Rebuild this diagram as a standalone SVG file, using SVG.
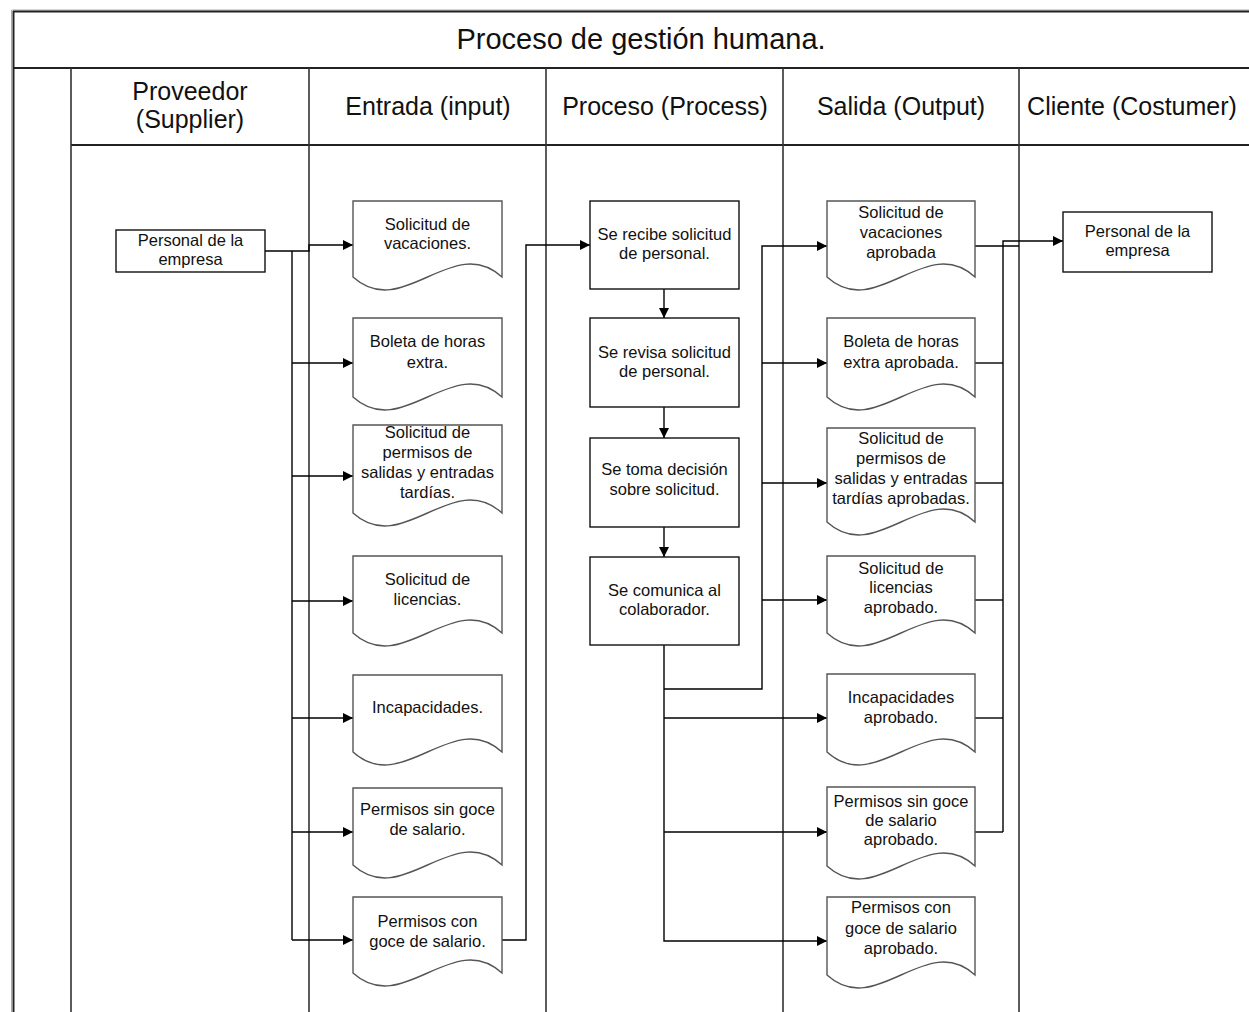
<svg xmlns="http://www.w3.org/2000/svg" width="1249" height="1012" viewBox="0 0 1249 1012">
  <defs>
    <marker id="arrow" markerUnits="userSpaceOnUse" markerWidth="10" markerHeight="10" refX="10" refY="5" orient="auto">
      <path d="M0,0 L10,5 L0,10 Z" fill="#000"/>
    </marker>
    <style>
      .frame { stroke: #222; stroke-width: 2; fill: none; }
      .col { stroke: #333; stroke-width: 1.6; fill: none; }
      .box { fill: #fff; stroke: #111; stroke-width: 1.4; }
      .doc { fill: #fff; stroke: #555; stroke-width: 1.4; }
      .wire { fill: none; stroke: #000; stroke-width: 1.4; }
      .arr { marker-end: url(#arrow); }
      .t { font-family: "Liberation Sans", Arial, sans-serif; font-size: 16.5px; text-anchor: middle; fill: #111; }
      .h { font-family: "Liberation Sans", Arial, sans-serif; font-size: 25px; text-anchor: middle; fill: #111; }
      .title { font-family: "Liberation Sans", Arial, sans-serif; font-size: 29px; text-anchor: middle; fill: #111; }
    </style>
  </defs>

  <rect width="1249" height="1012" fill="#fff"/>

  <!-- table frame -->
  <g id="frame">
    <line x1="12" y1="10" x2="1249" y2="10" stroke="#aaa" stroke-width="1"/>
    <line x1="11.5" y1="10" x2="11.5" y2="1012" stroke="#aaa" stroke-width="1"/>
    <line x1="13" y1="11.5" x2="1249" y2="11.5" class="frame"/>
    <line x1="13.5" y1="11" x2="13.5" y2="1012" class="frame"/>
    <line x1="13" y1="68" x2="1249" y2="68" class="frame" stroke-width="2.6"/>
    <line x1="71" y1="145" x2="1249" y2="145" class="frame"/>
    <line x1="71" y1="68" x2="71" y2="1012" class="col"/>
    <line x1="309" y1="68" x2="309" y2="1012" class="col"/>
    <line x1="546" y1="68" x2="546" y2="1012" class="col"/>
    <line x1="783" y1="68" x2="783" y2="1012" class="col"/>
    <line x1="1019" y1="68" x2="1019" y2="1012" class="col"/>
    <text class="title" x="641" y="49">Proceso de gestión humana.</text>
    <text class="h" x="190" y="100">Proveedor</text>
    <text class="h" x="190" y="128">(Supplier)</text>
    <text class="h" x="428" y="115">Entrada (input)</text>
    <text class="h" x="665" y="115">Proceso (Process)</text>
    <text class="h" x="901" y="115">Salida (Output)</text>
    <text class="h" x="1132" y="115">Cliente (Costumer)</text>
  </g>

  <!-- connectors -->
  <g id="connectors">
    <path class="wire arr" d="M265,251 H309 V245 H353"/>
    <path class="wire" d="M292,251 V940"/>
    <path class="wire arr" d="M292,363 H353"/>
    <path class="wire arr" d="M292,476 H353"/>
    <path class="wire arr" d="M292,601 H353"/>
    <path class="wire arr" d="M292,718 H353"/>
    <path class="wire arr" d="M292,832 H353"/>
    <path class="wire arr" d="M292,940 H353"/>
    <path class="wire arr" d="M502,940 H526 V245 H590"/>
    <path class="wire arr" d="M664,289 V318"/>
    <path class="wire arr" d="M664,407 V438"/>
    <path class="wire arr" d="M664,527 V557"/>
    <path class="wire arr" d="M664,645 V941 H827"/>
    <path class="wire arr" d="M664,689 H762 V246 H827"/>
    <path class="wire arr" d="M762,363 H827"/>
    <path class="wire arr" d="M762,483 H827"/>
    <path class="wire arr" d="M762,600 H827"/>
    <path class="wire arr" d="M664,718 H827"/>
    <path class="wire arr" d="M664,832 H827"/>
    <path class="wire" d="M975,246 H1019"/>
    <path class="wire" d="M975,363 H1003"/>
    <path class="wire" d="M975,483 H1003"/>
    <path class="wire" d="M975,600 H1003"/>
    <path class="wire" d="M975,718 H1003"/>
    <path class="wire" d="M975,832 H1003"/>
    <path class="wire arr" d="M1003,832 V241 H1063"/>
  </g>

  <!-- supplier -->
  <g id="proveedor">
    <rect class="box" x="116" y="230" width="149" height="42"/>
    <text class="t" x="190.5" y="246">Personal de la</text>
    <text class="t" x="190.5" y="265">empresa</text>
  </g>

  <!-- inputs -->
  <g id="in-vacaciones">
    <path class="doc" d="M353,201 H502 V277 C452.3,232 402.7,322 353,277 Z"/>
    <text class="t" x="427.5" y="230">Solicitud de</text>
    <text class="t" x="427.5" y="249">vacaciones.</text>
  </g>
  <g id="in-horas-extra">
    <path class="doc" d="M353,318 H502 V397 C452.3,352 402.7,442 353,397 Z"/>
    <text class="t" x="427.5" y="347">Boleta de horas</text>
    <text class="t" x="427.5" y="368">extra.</text>
  </g>
  <g id="in-permisos-salidas">
    <path class="doc" d="M353,425 H502 V513 C452.3,468 402.7,558 353,513 Z"/>
    <text class="t" x="427.5" y="438">Solicitud de</text>
    <text class="t" x="427.5" y="458">permisos de</text>
    <text class="t" x="427.5" y="478">salidas y entradas</text>
    <text class="t" x="427.5" y="498">tardías.</text>
  </g>
  <g id="in-licencias">
    <path class="doc" d="M353,556 H502 V633 C452.3,588 402.7,678 353,633 Z"/>
    <text class="t" x="427.5" y="585">Solicitud de</text>
    <text class="t" x="427.5" y="605">licencias.</text>
  </g>
  <g id="in-incapacidades">
    <path class="doc" d="M353,675 H502 V752 C452.3,707 402.7,797 353,752 Z"/>
    <text class="t" x="427.5" y="713">Incapacidades.</text>
  </g>
  <g id="in-sin-goce">
    <path class="doc" d="M353,788 H502 V865 C452.3,820 402.7,910 353,865 Z"/>
    <text class="t" x="427.5" y="815">Permisos sin goce</text>
    <text class="t" x="427.5" y="835">de salario.</text>
  </g>
  <g id="in-con-goce">
    <path class="doc" d="M353,897 H502 V973 C452.3,928 402.7,1018 353,973 Z"/>
    <text class="t" x="427.5" y="927">Permisos con</text>
    <text class="t" x="427.5" y="947">goce de salario.</text>
  </g>

  <!-- process steps -->
  <g id="p-recibe">
    <rect class="box" x="590" y="201" width="149" height="88"/>
    <text class="t" x="664.5" y="240">Se recibe solicitud</text>
    <text class="t" x="664.5" y="259">de personal.</text>
  </g>
  <g id="p-revisa">
    <rect class="box" x="590" y="318" width="149" height="89"/>
    <text class="t" x="664.5" y="358">Se revisa solicitud</text>
    <text class="t" x="664.5" y="377">de personal.</text>
  </g>
  <g id="p-decision">
    <rect class="box" x="590" y="438" width="149" height="89"/>
    <text class="t" x="664.5" y="475">Se toma decisión</text>
    <text class="t" x="664.5" y="495">sobre solicitud.</text>
  </g>
  <g id="p-comunica">
    <rect class="box" x="590" y="557" width="149" height="88"/>
    <text class="t" x="664.5" y="596">Se comunica al</text>
    <text class="t" x="664.5" y="615">colaborador.</text>
  </g>

  <!-- outputs -->
  <g id="out-vacaciones">
    <path class="doc" d="M827,201 H975 V277 C925.7,232 876.3,322 827,277 Z"/>
    <text class="t" x="901" y="218">Solicitud de</text>
    <text class="t" x="901" y="238">vacaciones</text>
    <text class="t" x="901" y="258">aprobada</text>
  </g>
  <g id="out-horas-extra">
    <path class="doc" d="M827,318 H975 V397 C925.7,352 876.3,442 827,397 Z"/>
    <text class="t" x="901" y="347">Boleta de horas</text>
    <text class="t" x="901" y="368">extra aprobada.</text>
  </g>
  <g id="out-permisos-salidas">
    <path class="doc" d="M827,428 H975 V522 C925.7,477 876.3,567 827,522 Z"/>
    <text class="t" x="901" y="444">Solicitud de</text>
    <text class="t" x="901" y="464">permisos de</text>
    <text class="t" x="901" y="484">salidas y entradas</text>
    <text class="t" x="901" y="504">tardías aprobadas.</text>
  </g>
  <g id="out-licencias">
    <path class="doc" d="M827,556 H975 V633 C925.7,588 876.3,678 827,633 Z"/>
    <text class="t" x="901" y="574">Solicitud de</text>
    <text class="t" x="901" y="593">licencias</text>
    <text class="t" x="901" y="613">aprobado.</text>
  </g>
  <g id="out-incapacidades">
    <path class="doc" d="M827,674 H975 V752 C925.7,707 876.3,797 827,752 Z"/>
    <text class="t" x="901" y="703">Incapacidades</text>
    <text class="t" x="901" y="723">aprobado.</text>
  </g>
  <g id="out-sin-goce">
    <path class="doc" d="M827,787 H975 V866 C925.7,821 876.3,911 827,866 Z"/>
    <text class="t" x="901" y="807">Permisos sin goce</text>
    <text class="t" x="901" y="826">de salario</text>
    <text class="t" x="901" y="845">aprobado.</text>
  </g>
  <g id="out-con-goce">
    <path class="doc" d="M827,897 H975 V975 C925.7,930 876.3,1020 827,975 Z"/>
    <text class="t" x="901" y="913">Permisos con</text>
    <text class="t" x="901" y="934">goce de salario</text>
    <text class="t" x="901" y="954">aprobado.</text>
  </g>

  <!-- customer -->
  <g id="cliente">
    <rect class="box" x="1063" y="212" width="149" height="60"/>
    <text class="t" x="1137.5" y="237">Personal de la</text>
    <text class="t" x="1137.5" y="256">empresa</text>
  </g>
</svg>
